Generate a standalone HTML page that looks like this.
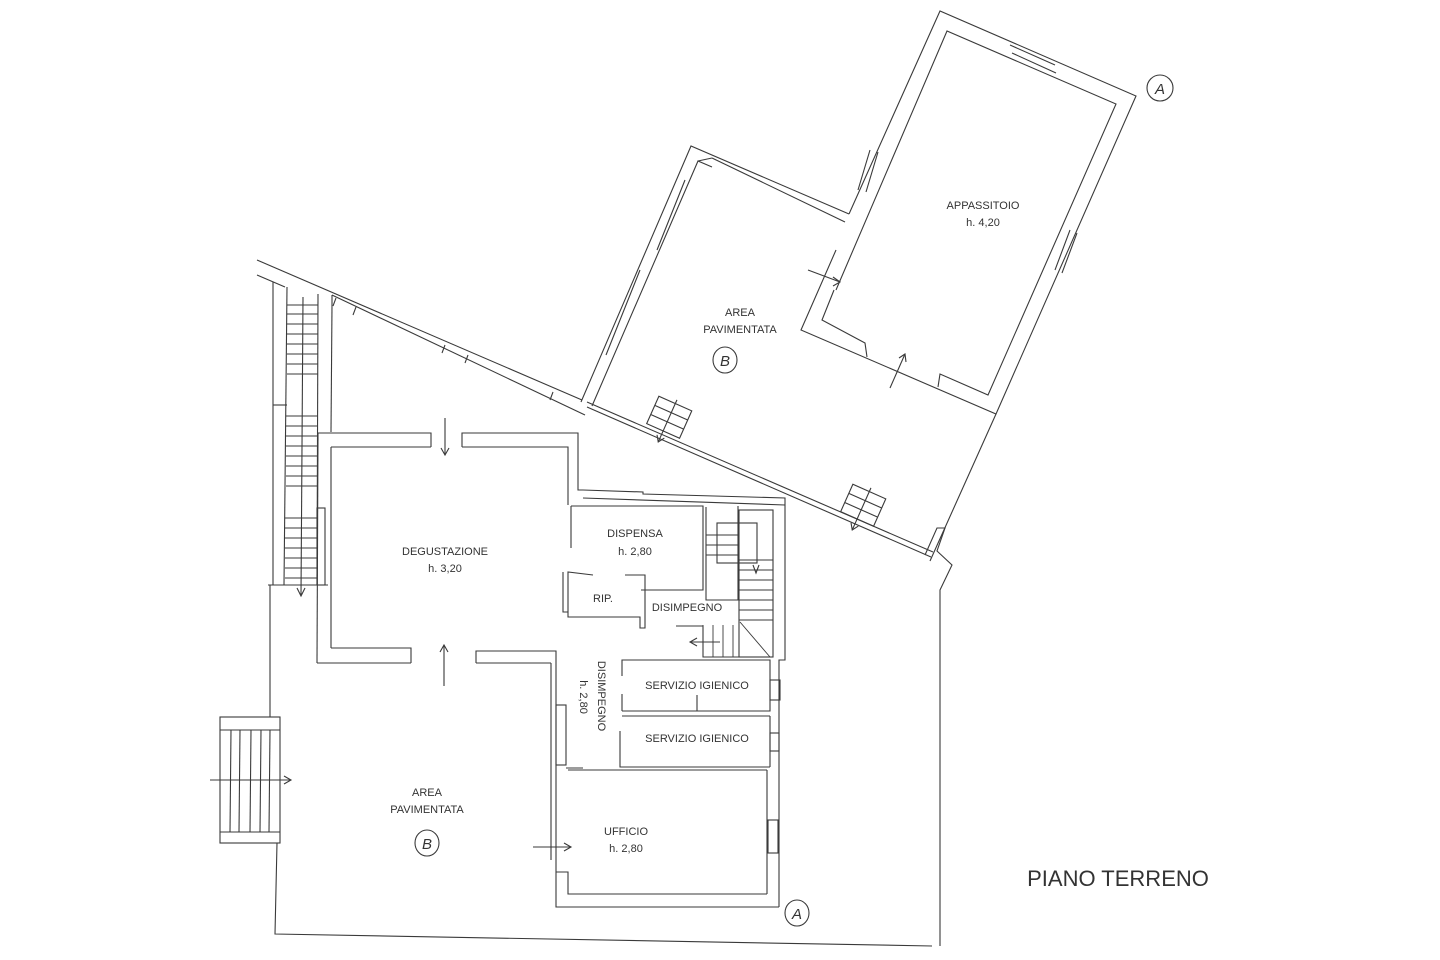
<!DOCTYPE html>
<html><head><meta charset="utf-8"><style>
html,body{margin:0;padding:0;background:#fff;}
svg{display:block;}
text{font-family:"Liberation Sans",sans-serif;fill:#333;font-size:11px;text-anchor:middle;}
</style></head><body>
<svg width="1440" height="960" viewBox="0 0 1440 960" xmlns="http://www.w3.org/2000/svg">
<g fill="none" stroke="#3a3a3a" stroke-width="1.1">
<polyline points="257,260 582,400"/>
<polyline points="257,275 285,287"/>
<polyline points="332,295 585,415"/>
<line x1="332" y1="295" x2="332" y2="305"/>
<polyline points="587,402 933,552"/>
<polyline points="587,407 931,557"/>
<line x1="336" y1="298" x2="333" y2="306"/><line x1="356" y1="307" x2="353" y2="315"/>
<line x1="445" y1="345" x2="442" y2="353"/><line x1="468" y1="355" x2="465" y2="363"/>
<line x1="553" y1="392" x2="550" y2="400"/>
<polyline points="925,555 937,528 945,528 937,551 952,565 940,590 940,946"/>
<polyline points="270,585 270,717"/>
<polyline points="277,843 275,934 932,946"/>
<line x1="273" y1="282" x2="273" y2="585"/>
<line x1="287" y1="287" x2="284" y2="585"/>
<line x1="318" y1="294" x2="317" y2="585"/>
<line x1="332" y1="305" x2="331" y2="432"/>
<line x1="268" y1="585" x2="328" y2="585"/>
<line x1="273" y1="405" x2="287" y2="405"/>
<line x1="303" y1="297" x2="301" y2="595"/>
<polyline points="297,588 301,596 305,588"/>
<g stroke-width="0.9">
<line x1="287" y1="305" x2="318" y2="305"/><line x1="287" y1="314" x2="318" y2="314"/><line x1="287" y1="324" x2="318" y2="324"/><line x1="287" y1="334" x2="318" y2="334"/><line x1="287" y1="344" x2="318" y2="344"/><line x1="287" y1="354" x2="318" y2="354"/><line x1="287" y1="364" x2="318" y2="364"/><line x1="287" y1="374" x2="318" y2="374"/>
<line x1="286" y1="416" x2="318" y2="416"/><line x1="286" y1="426" x2="318" y2="426"/><line x1="286" y1="436" x2="318" y2="436"/><line x1="286" y1="446" x2="318" y2="446"/><line x1="286" y1="456" x2="318" y2="456"/><line x1="286" y1="466" x2="318" y2="466"/><line x1="286" y1="476" x2="318" y2="476"/><line x1="286" y1="486" x2="318" y2="486"/>
<line x1="285" y1="518" x2="317" y2="518"/><line x1="285" y1="528" x2="317" y2="528"/><line x1="285" y1="538" x2="317" y2="538"/><line x1="285" y1="548" x2="317" y2="548"/><line x1="285" y1="558" x2="317" y2="558"/><line x1="285" y1="568" x2="317" y2="568"/><line x1="285" y1="578" x2="317" y2="578"/>
</g>
<rect x="317" y="508" width="8" height="77"/>
<polyline points="318,433 431,433 431,447"/>
<polyline points="462,447 462,433 578,433 578,490 583,490"/>
<polyline points="331,447 431,447"/><polyline points="462,447 568,447 568,505"/>
<line x1="331" y1="447" x2="331" y2="648"/><line x1="318" y1="433" x2="317" y2="663"/>
<polyline points="331,648 411,648 411,663"/><polyline points="317,663 411,663"/>
<polyline points="476,663 476,651 556,651 556,907 779,907"/>
<line x1="476" y1="663" x2="551" y2="663"/><line x1="551" y1="663" x2="551" y2="860"/>
<line x1="445" y1="418" x2="445" y2="455"/><polyline points="441,448 445,455 449,448"/>
<line x1="444" y1="686" x2="444" y2="645"/><polyline points="440,652 444,645 448,652"/>
<polyline points="583,490 643,492 643,494 785,498 785,660 779,660 779,907"/>
<polyline points="583,498 785,505"/>
<polyline points="571,506 703,506 703,590 641,590"/>
<line x1="571" y1="506" x2="571" y2="548"/>
<polyline points="593,575 568,572 568,617 640,617 640,628 645,628 645,575 625,575"/>
<polyline points="563,572 563,612 568,612"/>
<polyline points="706,507 706,600 738,600 738,506"/>
<rect x="739" y="510" width="34" height="147"/>
<rect x="717" y="523" width="40" height="40"/>
<g stroke-width="0.9">
<line x1="706" y1="535" x2="739" y2="535"/><line x1="706" y1="545" x2="739" y2="545"/><line x1="706" y1="555" x2="739" y2="555"/>
<line x1="739" y1="560" x2="773" y2="560"/><line x1="739" y1="570" x2="773" y2="570"/><line x1="739" y1="580" x2="773" y2="580"/><line x1="739" y1="590" x2="773" y2="590"/><line x1="739" y1="600" x2="773" y2="600"/><line x1="739" y1="610" x2="773" y2="610"/><line x1="739" y1="620" x2="773" y2="620"/>
<line x1="703" y1="625" x2="703" y2="657"/><line x1="713" y1="625" x2="713" y2="657"/><line x1="723" y1="625" x2="723" y2="657"/><line x1="733" y1="625" x2="733" y2="657"/>
<line x1="740" y1="622" x2="770" y2="657"/>
</g>
<polyline points="676,626 703,626 703,657 770,657"/>
<line x1="690" y1="642" x2="720" y2="642"/><polyline points="697,638 690,642 697,646"/>
<polyline points="753,565 756,573 759,565"/>
<polyline points="622,676 622,660 770,660 770,711 622,711"/>
<line x1="622" y1="694" x2="622" y2="711"/><line x1="697" y1="695" x2="697" y2="711"/>
<line x1="622" y1="716" x2="770" y2="716"/><line x1="770" y1="716" x2="770" y2="767"/>
<polyline points="620,731 620,767 770,767"/>
<rect x="770" y="680" width="10" height="20"/><rect x="770" y="733" width="9" height="18"/>
<line x1="568" y1="770" x2="767" y2="770"/><line x1="767" y1="770" x2="767" y2="894"/>
<polyline points="556,872 568,872 568,894 767,894"/>
<rect x="768" y="820" width="10" height="33"/>
<rect x="556" y="705" width="10" height="60"/>
<line x1="566" y1="768" x2="583" y2="768"/>
<line x1="533" y1="847" x2="571" y2="847"/><polyline points="564,843 571,847 564,851"/>
<!-- external stair -->
<rect x="220" y="717" width="60" height="126"/>
<line x1="220" y1="730" x2="280" y2="730"/><line x1="220" y1="832" x2="280" y2="832"/>
<line x1="231" y1="730" x2="230" y2="832"/><line x1="240" y1="730" x2="239" y2="832"/><line x1="251" y1="730" x2="250" y2="832"/><line x1="261" y1="730" x2="260" y2="832"/><line x1="270" y1="730" x2="269" y2="832"/>
<line x1="210" y1="780" x2="291" y2="780"/><polyline points="284,776 291,780 284,784"/>
<polyline points="581,402 691,146 849,214"/>
<polyline points="592,406 698,161 712,167"/>
<polyline points="712,158 845,222"/>
<line x1="698" y1="161" x2="712" y2="158"/>
<line x1="606" y1="355" x2="640" y2="270"/><line x1="657" y1="250" x2="685" y2="180"/>
<polyline points="849,214 940,11 1136,96 996,414 801,330 836,250"/>
<polyline points="836,290 947,31 1116,104 988,395 940,374 938,387"/>
<polyline points="867,357 865,343 822,320 834,290"/>
<line x1="1010" y1="45" x2="1055" y2="65"/><line x1="1012" y1="53" x2="1056" y2="73"/>
<line x1="870" y1="150" x2="858" y2="190"/><line x1="878" y1="152" x2="866" y2="192"/>
<line x1="1070" y1="230" x2="1055" y2="270"/><line x1="1077" y1="233" x2="1062" y2="273"/>
<line x1="808" y1="270" x2="840" y2="282"/><polyline points="833,277 840,282 833,286"/>
<line x1="890" y1="388" x2="905" y2="354"/><polyline points="899,358 905,354 906,362"/>
<line x1="996" y1="414" x2="930" y2="561"/>
<g transform="translate(668,420) rotate(24)"><rect x="-18" y="-18" width="36" height="30"/><line x1="-18" y1="-8" x2="18" y2="-8"/><line x1="-18" y1="2" x2="18" y2="2"/><line x1="0" y1="-22" x2="0" y2="24"/><polyline points="-4,18 0,24 4,18"/></g>
<g transform="translate(862,508) rotate(24)"><rect x="-18" y="-18" width="36" height="30"/><line x1="-18" y1="-8" x2="18" y2="-8"/><line x1="-18" y1="2" x2="18" y2="2"/><line x1="0" y1="-22" x2="0" y2="24"/><polyline points="-4,18 0,24 4,18"/></g>
<circle cx="1160" cy="88" r="13"/>
<ellipse cx="725" cy="360" rx="12" ry="13"/>
<ellipse cx="427" cy="843" rx="12" ry="13"/>
<ellipse cx="797" cy="913" rx="12" ry="13"/>
</g>
<g font-style="italic"><text x="1160" y="94" style="font-size:15px">A</text><text x="725" y="366" style="font-size:15px">B</text><text x="427" y="849" style="font-size:15px">B</text><text x="797" y="919" style="font-size:15px">A</text></g>
<text x="983" y="209">APPASSITOIO</text><text x="983" y="226">h. 4,20</text>
<text x="740" y="316">AREA</text><text x="740" y="333">PAVIMENTATA</text>
<text x="445" y="555">DEGUSTAZIONE</text><text x="445" y="572">h. 3,20</text>
<text x="635" y="537">DISPENSA</text><text x="635" y="555">h. 2,80</text>
<text x="603" y="602">RIP.</text>
<text x="687" y="611">DISIMPEGNO</text>
<text x="697" y="689">SERVIZIO IGIENICO</text>
<text x="697" y="742">SERVIZIO IGIENICO</text>
<text x="626" y="835">UFFICIO</text><text x="626" y="852">h. 2,80</text>
<text x="427" y="796">AREA</text><text x="427" y="813">PAVIMENTATA</text>
<text transform="translate(598,696) rotate(90)">DISIMPEGNO</text>
<text transform="translate(580,697) rotate(90)">h. 2,80</text>
<text x="1118" y="886" style="font-size:22px">PIANO TERRENO</text>
</svg>
</body></html>
